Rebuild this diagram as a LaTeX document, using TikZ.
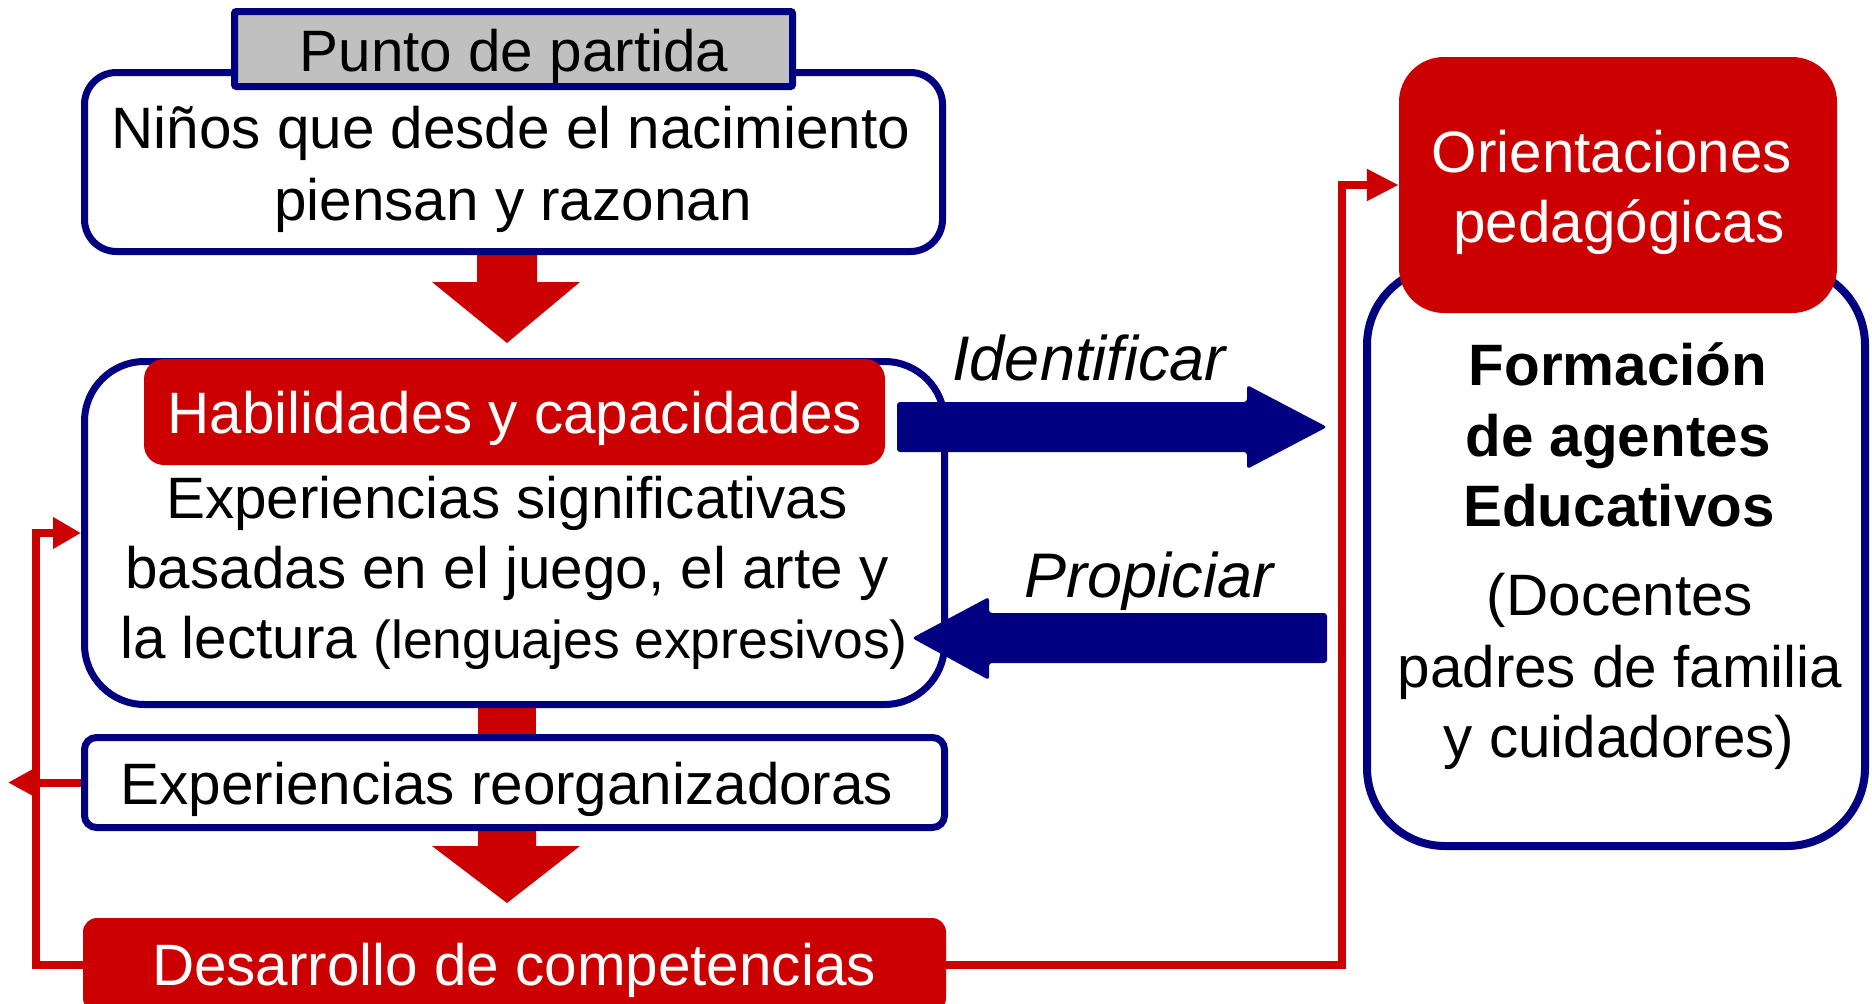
\documentclass[tikz,border=0pt]{standalone}
\usepackage{fontspec}
\setmainfont{Liberation Sans}
\usetikzlibrary{arrows.meta,calc}
\definecolor{navyc}{HTML}{000080}
\definecolor{redc}{HTML}{CC0000}
\definecolor{grayc}{HTML}{C0C0C0}
\newcommand\fsz{\fontsize{58.4}{70}\selectfont}
\newcommand\fsl{\fontsize{63}{75}\selectfont\itshape}
\newcommand\fss{\fontsize{53.4}{64}\selectfont}
\begin{document}
\begin{tikzpicture}[x=1pt,y=-1pt,
  box/.style={draw=navyc, line width=7pt, fill=white, inner sep=0pt, rectangle},
  redbox/.style={fill=redc, draw=none, inner sep=0pt, rectangle},
  txt/.style={anchor=base, inner sep=0pt, font=\fsz},
  wtxt/.style={txt, text=white},
  btxt/.style={txt, font=\fsz\bfseries},
  ltxt/.style={anchor=base, inner sep=0pt, font=\fsl},
  redline/.style={draw=redc, line width=8pt},
  blockred/.style={fill=redc},
  blocknavy/.style={fill=navyc, rounded corners=3pt}]
\useasboundingbox (0,0) rectangle (1872,1004);

% red block arrows (behind boxes)
\fill[blockred] (477,200) -- (537,200) -- (537,282) -- (580,282) -- (507,343) -- (432,282) -- (477,282) -- cycle;
\fill[blockred] (478,700) rectangle (536,740);
\fill[blockred] (478,800) -- (536,800) -- (536,846) -- (580,846) -- (507,903) -- (432,846) -- (478,846) -- cycle;

% left boxes
\node[box, rounded corners=32pt, minimum width=858pt, minimum height=179pt] (nin) at (513.5,162) {};
\node[box, fill=grayc, rounded corners=2pt, minimum width=558pt, minimum height=75pt] (punto) at (513.5,49) {};
\node[box, rounded corners=60pt, minimum width=860pt, minimum height=343pt] (hab) at (514.5,533) {};
\node[redbox, rounded corners=20pt, minimum width=741pt, minimum height=106pt] (habr) at (514.5,412) {};
\node[box, rounded corners=12pt, minimum width=860pt, minimum height=90pt] (reo) at (514.5,782.5) {};
\node[redbox, rounded corners=14pt, minimum width=863pt, minimum height=94pt] (des) at (514.5,965) {};

% right boxes
\node[box, line width=8pt, rounded corners=78pt, minimum width=498pt, minimum height=579pt] (for) at (1616,556.5) {};
\node[redbox, rounded corners=45pt, minimum width=438pt, minimum height=256pt] (ori) at (1618,185) {};

% navy block arrows
\fill[blocknavy] (897,402) -- (1247,402) -- (1247,385) -- (1327,427) -- (1247,469) -- (1247,452) -- (897,452) -- cycle;
\fill[blocknavy] (1327,613) -- (989,613) -- (989,597) -- (912,638) -- (989,680) -- (989,663) -- (1327,663) -- cycle;

% red thin connectors
\coordinate (leftend) at (8,782.5);
\draw[redline, -{Triangle[length=28pt,width=30pt]}] (des.west) -- (36,965) |- (hab.west);
\draw[redline, -{Triangle[length=24pt,width=24pt]}] (reo.west) -- (leftend);
\draw[redline, -{Triangle[length=32pt,width=30pt]}] (des.east) -- (1342,965) |- (ori.west);

% texts
\node[txt] (tpunto) at (514,71) {Punto de partida};
\node[txt] (tnin1) at (511,148) {Niños que desde el nacimiento};
\node[txt] (tnin2) at (513,220) {piensan y razonan};
\node[wtxt] (thab) at (515,433) {Habilidades y capacidades};
\node[txt] (texp1) at (507,518) {Experiencias significativas};
\node[txt] (texp2) at (507,588) {basadas en el juego, el arte y};
\node[txt] (texp3) at (514,658) {la lectura {\fss(lenguajes expresivos)}};
\node[txt] (treo) at (507,804) {Experiencias reorganizadoras};
\node[wtxt] (tdes) at (514,985) {Desarrollo de competencias};
\node[ltxt] (tid) at (1089,380) {Identificar};
\node[ltxt] (tpro) at (1149,597) {Propiciar};
\node[wtxt] (tori1) at (1612,172) {Orientaciones};
\node[wtxt] (tori2) at (1619,242) {pedagógicas};
\node[btxt] (tfor1) at (1618,385) {Formación};
\node[btxt] (tfor2) at (1618,456) {de agentes};
\node[btxt] (tfor3) at (1619,526) {Educativos};
\node[txt] (tdoc1) at (1620,615) {(Docentes};
\node[txt] (tdoc2) at (1620,687) {padres de familia};
\node[txt] (tdoc3) at (1619,757) {y cuidadores)};
\end{tikzpicture}
\end{document}
